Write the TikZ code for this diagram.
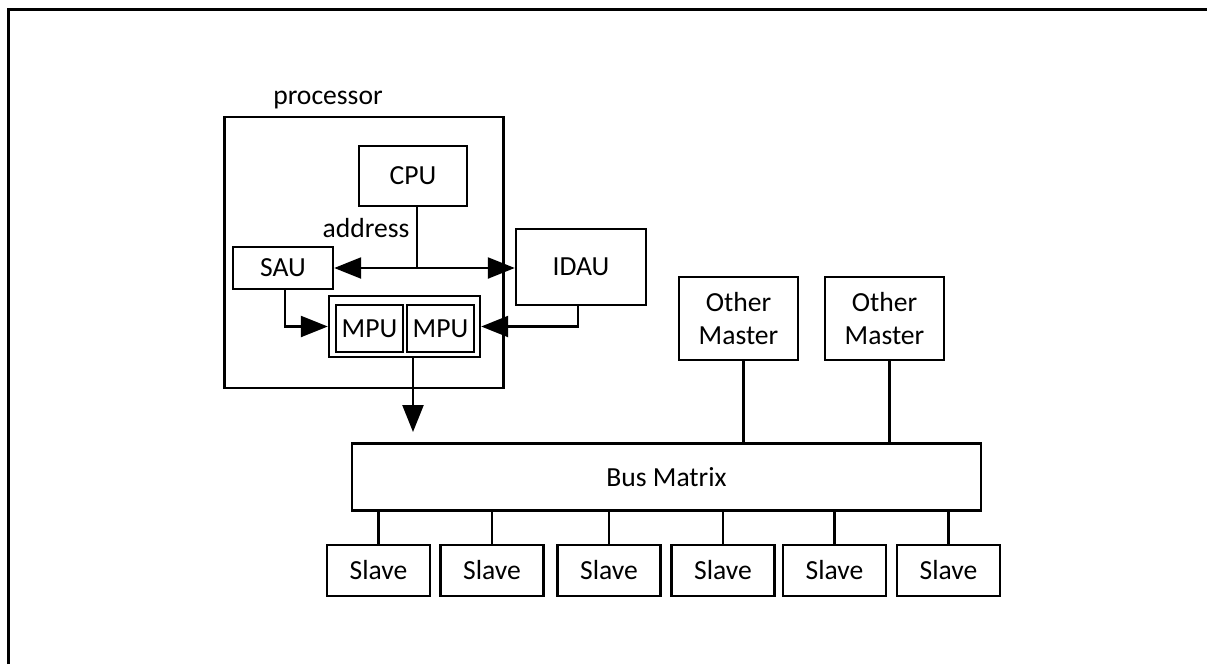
\documentclass[tikz,border=0pt]{standalone}
\usepackage{fontspec}
\setmainfont{Carlito}
\usetikzlibrary{arrows.meta}
\begin{document}
\begin{tikzpicture}[x=1pt,y=-1pt,
  box/.style={draw=black,line width=2.4pt,rectangle,inner sep=0pt,align=center,
    font=\fontsize{27.6}{32.5}\selectfont},
  conn/.style={draw=black,line width=2.4pt},
  arr/.style={conn,-{Triangle[length=27pt,width=21pt]}},
  lbl/.style={inner sep=0pt,anchor=base,font=\fontsize{27.6}{32.5}\selectfont}]
\useasboundingbox (0,0) rectangle (1207,664);
\fill[white] (0,0) rectangle (1207,664);
\draw[line width=3pt] (8,664) -- (8,9) -- (1207,9);

% processor
\node[lbl] (proclbl) at (328,104) {processor};
\node[box,minimum width=279pt,minimum height=271pt] (proc) at (364,252.5) {};
\node[box,minimum width=108pt,minimum height=60pt] (cpu) at (413,176) {CPU};
\node[lbl] (addr) at (366,237) {address};
\node[box,minimum width=100pt,minimum height=42pt] (sau) at (283,268) {SAU};
\node[box,minimum width=130pt,minimum height=76pt] (idau) at (581,267) {IDAU};
\node[box,minimum width=151pt,minimum height=61pt] (mpuo) at (404.5,326.5) {};
\node[box,minimum width=67pt,minimum height=47pt] (mpua) at (369.5,328.5) {MPU};
\node[box,minimum width=67pt,minimum height=47pt] (mpub) at (440.5,328.5) {MPU};

\coordinate (j) at (417,268);
\coordinate (mpuend) at (413,432);

\draw[conn] (j |- cpu.south) -- (j);
\draw[conn,{Triangle[length=27pt,width=21pt]}-{Triangle[length=27pt,width=21pt]}]
  (sau.east) -- (j -| idau.west);
\draw[arr] ([xshift=2pt]sau.south) |- (mpuo.west);
\draw[arr] ([xshift=-3pt]idau.south) |- (mpuo.east);
\draw[arr] (mpuend |- mpuo.south) -- (mpuend);

% masters and bus
\node[box,minimum width=119pt,minimum height=83pt] (om1) at (738.5,318.5) {Other\\Master};
\node[box,minimum width=119pt,minimum height=83pt] (om2) at (884.5,318.5) {Other\\Master};
\node[box,minimum width=629pt,minimum height=67pt] (bus) at (666.5,477) {Bus Matrix};

\draw[conn] ([xshift=5pt]om1.south) -- ([xshift=5pt]om1.south |- bus.north);
\draw[conn] ([xshift=5pt]om2.south) -- ([xshift=5pt]om2.south |- bus.north);

% slaves
\foreach \i/\x in {1/378.5,2/492,3/609,4/723,5/834.5,6/948.5}{
  \node[box,minimum width=103pt,minimum height=51pt] (s\i) at (\x,570.5) {Slave};
  \draw[conn] (s\i.north) -- (s\i.north |- bus.south);
}
\end{tikzpicture}
\end{document}
